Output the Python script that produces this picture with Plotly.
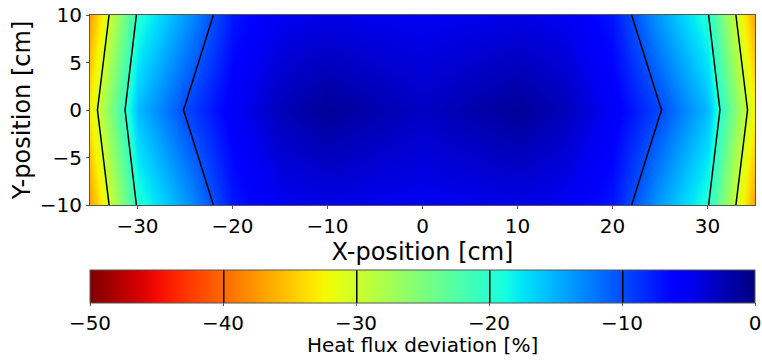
import plotly.graph_objects as go
import numpy as np

# Grid positions [cm]
x_pos = [-35, -30, -25, -20, -15, -10, -5, 0, 5, 10, 15, 20, 25, 30, 35]
y_pos = [-10, 0, 10]

# Heat flux deviation [%], rows at y = -10, 0, 10
z_edge = [-37.0, -19.6, -14.0, -7.3, -5.0, -4.5, -4.8, -5.0, -4.8, -4.5, -5.0, -7.3, -14.0, -19.6, -37.0]
z_mid = [-32.7, -15.5, -9.8, -5.5, -2.5, -1.0, -2.0, -3.0, -2.0, -1.0, -2.5, -5.5, -9.8, -15.5, -32.7]
z_rows = [z_edge, z_mid, z_edge]

cbar_ticks = [-50, -40, -30, -20, -10, 0]

# matplotlib "jet" reversed, as a Plotly colorscale
def jet(t):
    r = np.interp(t, [0, 0.35, 0.66, 0.89, 1], [0, 0, 1, 1, 0.5])
    g = np.interp(t, [0, 0.125, 0.375, 0.64, 0.91, 1], [0, 0, 1, 1, 0, 0])
    b = np.interp(t, [0, 0.11, 0.34, 0.65, 1], [0.5, 1, 1, 0, 0])
    return "rgb(%d,%d,%d)" % (round(r * 255), round(g * 255), round(b * 255))

stops = np.linspace(0, 1, 41)
jet_r = [[float(p), jet(1 - p)] for p in stops]

font = "DejaVu Sans"
fs = 20

fig = go.Figure(
    go.Contour(
        x=x_pos,
        y=y_pos,
        z=z_rows,
        zmin=-50,
        zmax=0,
        colorscale=jet_r,
        contours=dict(start=-40, end=-10, size=10, coloring="heatmap", showlines=True),
        line=dict(color="black", width=1.5, smoothing=0),
        colorbar=dict(
            orientation="h",
            x=0.5,
            xanchor="center",
            y=-0.342,
            yanchor="top",
            len=1,
            lenmode="fraction",
            thickness=33,
            xpad=0,
            ypad=0,
            outlinecolor="#555",
            outlinewidth=1,
            tickvals=cbar_ticks,
            ticks="outside",
            ticklen=3,
            tickcolor="#555",
            tickfont=dict(family=font, size=fs, color="black"),
        ),
    )
)

fig.add_annotation(
    text="Heat flux deviation [%]",
    xref="paper", yref="paper",
    x=0.5, y=-0.737,
    xanchor="center", yanchor="middle",
    showarrow=False,
    font=dict(family=font, size=fs, color="black"),
)

fig.update_layout(
    width=762,
    height=360,
    margin=dict(l=90, r=7, t=15, b=155, autoexpand=False),
    paper_bgcolor="white",
    plot_bgcolor="white",
    font=dict(family=font, size=fs, color="black"),
    xaxis=dict(
        range=[-35, 35],
        dtick=10,
        tick0=0,
        ticks="outside",
        ticklen=3,
        tickcolor="#555",
        showline=True,
        linecolor="#555",
        linewidth=1,
        mirror=True,
        showgrid=False,
        zeroline=False,
        automargin=False,
        title=dict(text="X-position [cm]", standoff=0),
    ),
    yaxis=dict(
        range=[-10, 10],
        dtick=5,
        ticks="outside",
        ticklen=3,
        tickcolor="#555",
        showline=True,
        linecolor="#555",
        linewidth=1,
        mirror=True,
        showgrid=False,
        zeroline=False,
        automargin=False,
        title=dict(text="Y-position [cm]", standoff=2),
    ),
)

fig.write_html("out.html", config={"displayModeBar": False},
               post_script="document.body.style.margin='0';")
